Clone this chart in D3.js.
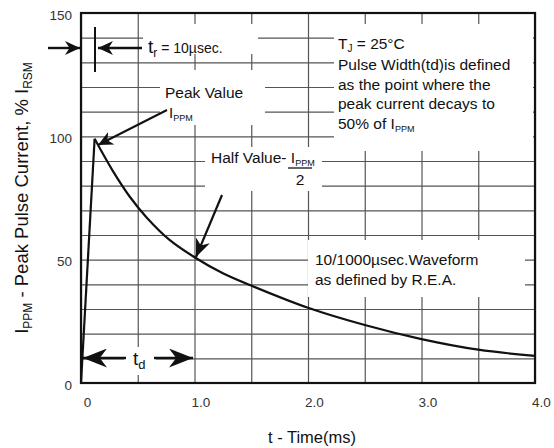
<!DOCTYPE html>
<html lang="en">
<head>
  <meta charset="UTF-8" />
  <title>10/1000 usec Pulse Waveform</title>
  <script src="https://d3js.org/d3.v7.min.js"></script>
  <style>
    body {
      margin: 0;
      background: white;
      font-family: "Liberation Sans", Arial, sans-serif;
    }
    svg { display: block; }
    .grid line { stroke: #555; stroke-width: 1.2; }
    .grid path { display: none; }
    .ticklbl text { font-size: 13.5px; fill: #333; }
    .ticklbl path, .ticklbl line { display: none; }
    .note { font-size: 15.5px; fill: #111; }
  </style>
</head>
<body>
  <svg width="554" height="448"></svg>

  <script>
    // waveform
    const timeMs     = [0, 0.12, 0.28, 0.43, 0.58, 0.78, 1.0, 1.25, 1.5, 2.0, 2.5, 3.0, 3.5, 4.0];
    const currentPct = [0, 99,   86,   75.5, 67,   58,   51,  44.5, 39.5, 30.5, 23.5, 17.8, 13.5, 11];

    const xTicks = [0, 1.0, 2.0, 3.0, 4.0];
    const xTickLabels = ["0", "1.0", "2.0", "3.0", "4.0"];
    const yTicks = [0, 50, 100, 150];
    const xGrid = d3.range(0, 4.01, 0.5);
    const yGrid = d3.range(0, 151, 10);

    const svg = d3.select("svg");
    const pLeft = 81, pRight = 535, pTop = 13, pBottom = 383;

    const x = d3.scaleLinear().domain([0, 4]).range([pLeft, pRight]);
    const y = d3.scaleLinear().domain([0, 150]).range([pBottom, pTop]);

    // arrow heads
    const defs = svg.append("defs");
    function head(id, len, wid) {
      defs.append("marker")
        .attr("id", id)
        .attr("markerUnits", "userSpaceOnUse")
        .attr("viewBox", `${-len} ${-wid / 2} ${len + 1} ${wid}`)
        .attr("refX", 0).attr("refY", 0)
        .attr("markerWidth", len + 1).attr("markerHeight", wid)
        .attr("orient", "auto")
        .append("path")
        .attr("d", `M0,0 L${-len},${-wid / 2} L${-len * 0.7},0 L${-len},${wid / 2} Z`)
        .attr("fill", "#111");
    }
    head("hSmall", 15, 14);
    head("hMid", 18, 15);
    head("hBig", 24, 19);

    // grid
    svg.append("g")
      .attr("class", "grid")
      .attr("transform", `translate(0,${pBottom})`)
      .call(d3.axisBottom(x).tickValues(xGrid).tickSize(-(pBottom - pTop)).tickFormat(""));
    svg.append("g")
      .attr("class", "grid")
      .attr("transform", `translate(${pLeft},0)`)
      .call(d3.axisLeft(y).tickValues(yGrid).tickSize(-(pRight - pLeft)).tickFormat(""));

    // white gaps in the grid behind the notes
    const gaps = [
      [143, 24, 115, 30],   // t_r label
      [160, 70, 105, 55],   // peak value
      [334, 24, 199, 127],  // TJ note
      [205, 147, 117, 44],  // half value
      [308, 240, 217, 57],  // waveform note
      [124, 347, 32, 28]    // t_d label
    ];
    svg.append("g").selectAll("rect")
      .data(gaps)
      .enter()
      .append("rect")
      .attr("x", d => d[0]).attr("y", d => d[1])
      .attr("width", d => d[2]).attr("height", d => d[3])
      .attr("fill", "white");

    // frame
    svg.append("rect")
      .attr("x", pLeft).attr("y", pTop)
      .attr("width", pRight - pLeft).attr("height", pBottom - pTop)
      .attr("fill", "none")
      .attr("stroke", "#111")
      .attr("stroke-width", 2.2);

    // tick labels
    svg.append("g")
      .attr("class", "ticklbl")
      .attr("transform", `translate(6,${pBottom + 5})`)
      .call(d3.axisBottom(x).tickValues(xTicks).tickSize(0)
        .tickFormat((d, i) => xTickLabels[i]))
      .selectAll("text").attr("dy", "1.2em");
    svg.append("g")
      .attr("class", "ticklbl")
      .attr("transform", `translate(${pLeft - 6},2)`)
      .call(d3.axisLeft(y).tickValues(yTicks).tickSize(0));

    // curve: straight rise, then smooth decay
    const pts = timeMs.map((t, i) => [t, currentPct[i]]);
    const line = d3.line().x(d => x(d[0])).y(d => y(d[1]));
    svg.append("path")
      .attr("d", line(pts.slice(0, 2)))
      .attr("fill", "none").attr("stroke", "#111").attr("stroke-width", 2.2);
    svg.append("path")
      .attr("d", line.curve(d3.curveCatmullRom.alpha(0.5))(pts.slice(1)))
      .attr("fill", "none").attr("stroke", "#111").attr("stroke-width", 2.2);

    // arrows
    function arrow(x1, y1, x2, y2, id, w) {
      svg.append("line")
        .attr("x1", x1).attr("y1", y1).attr("x2", x2).attr("y2", y2)
        .attr("stroke", "#111").attr("stroke-width", w || 2)
        .attr("marker-end", `url(#${id})`);
    }
    // t_r
    arrow(48, 48, 80, 48, "hSmall", 2.4);
    arrow(142, 48, 98, 48, "hSmall", 2.4);
    svg.append("line")
      .attr("x1", 95).attr("y1", 27).attr("x2", 95).attr("y2", 72)
      .attr("stroke", "#111").attr("stroke-width", 2);
    // peak value
    arrow(167, 110, 98, 145, "hSmall", 2);
    // half value
    arrow(222, 195, 196, 257, "hMid", 2.2);
    // t_d
    arrow(126, 358, 83, 358, "hBig", 2.4);
    arrow(154, 358, 193, 358, "hBig", 2.4);

    // text helpers
    function sub(sel, main, s, size, subSize, shift) {
      sel.append("tspan").text(main).style("font-size", size + "px");
      sel.append("tspan").text(s).style("font-size", subSize + "px").attr("dy", shift);
      return sel;
    }

    // t_r label
    const tr = svg.append("text").attr("class", "note").attr("x", 148).attr("y", 53);
    sub(tr, "t", "r", 19, 12, 4);
    tr.append("tspan").text(" = 10\u00b5sec.").style("font-size", "14px").attr("dy", -4);

    // peak value
    svg.append("text").attr("class", "note").attr("x", 165).attr("y", 98).text("Peak Value");
    sub(svg.append("text").attr("class", "note").attr("x", 169).attr("y", 118), "I", "PPM", 15, 9, 3);

    // half value
    const hv = svg.append("text").attr("class", "note").attr("x", 211).attr("y", 163);
    hv.append("tspan").text("Half Value- ");
    hv.append("tspan").text("I");
    hv.append("tspan").text("PPM").style("font-size", "9px").attr("dy", 3);
    svg.append("line")
      .attr("x1", 288).attr("y1", 168).attr("x2", 312).attr("y2", 168)
      .attr("stroke", "#111").attr("stroke-width", 1.3);
    svg.append("text").attr("class", "note").attr("x", 300).attr("y", 185)
      .attr("text-anchor", "middle").text("2");

    // TJ note
    const tj = svg.append("text").attr("class", "note").attr("x", 338).attr("y", 49);
    tj.append("tspan").text("T");
    tj.append("tspan").text("J").style("font-size", "10px").attr("dy", 3);
    tj.append("tspan").text(" = 25\u00b0C").attr("dy", -3);
    const noteLines = ["Pulse Width(td)is defined", "as the point where the", "peak current decays to"];
    svg.append("g").selectAll("text")
      .data(noteLines)
      .enter()
      .append("text")
      .attr("class", "note")
      .attr("x", 338)
      .attr("y", (d, i) => 70 + i * 19.5)
      .text(d => d);
    const p50 = svg.append("text").attr("class", "note").attr("x", 338).attr("y", 129);
    p50.append("tspan").text("50% of I");
    p50.append("tspan").text("PPM").style("font-size", "9px").attr("dy", 3);

    // waveform note
    svg.append("text").attr("class", "note").attr("x", 315).attr("y", 265).text("10/1000\u00b5sec.Waveform");
    svg.append("text").attr("class", "note").attr("x", 315).attr("y", 285).text("as defined by R.E.A.");

    // t_d label
    sub(svg.append("text").attr("class", "note").attr("x", 133).attr("y", 365), "t", "d", 19, 13, 4);

    // axis titles
    svg.append("text")
      .attr("x", 312).attr("y", 443)
      .attr("text-anchor", "middle")
      .style("font-size", "16.5px").style("fill", "#111")
      .text("t - Time(ms)");

    const yl = svg.append("text")
      .attr("transform", `translate(28,198) rotate(-90)`)
      .attr("text-anchor", "middle")
      .style("font-size", "18.5px").style("fill", "#111");
    yl.append("tspan").text("I");
    yl.append("tspan").text("PPM").style("font-size", "12px").attr("dy", 4);
    yl.append("tspan").text(" - Peak Pulse Current, % I").attr("dy", -4);
    yl.append("tspan").text("RSM").style("font-size", "12px").attr("dy", 4);
  </script>
</body>
</html>
